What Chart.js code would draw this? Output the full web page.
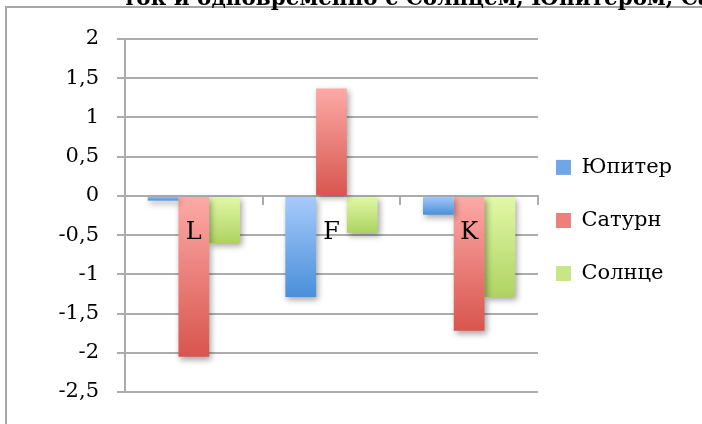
<!DOCTYPE html>
<html>
<head>
<meta charset="utf-8">
<script src="https://cdn.jsdelivr.net/npm/chart.js@4.4.1/dist/chart.umd.min.js"></script>
<style>
html,body{margin:0;padding:0;background:#fff;}
#wrap{width:702px;height:424px;position:relative;}
</style>
</head>
<body>
<div id="wrap"><canvas id="c" width="702" height="424"></canvas></div>
<script>
const categories = ['L', 'F', 'K'];
const seriesNames = ['Юпитер', 'Сатурн', 'Солнце'];
const jupiter = [-0.06, -1.29, -0.24];
const saturn = [-2.05, 1.37, -1.72];
const sun = [-0.6, -0.47, -1.29];
const yTicks = [2, 1.5, 1, 0.5, 0, -0.5, -1, -1.5, -2, -2.5];
const titleText = 'ток и одновременно с Солнцем, Юпитером, Сатурном';

const palette = [
  {top: '#a7cbfb', bot: '#4a8fd9', mid: '#6fa6e8'},
  {top: '#fdaaa7', bot: '#d8554e', mid: '#ee7f7a'},
  {top: '#e2f9a7', bot: '#aed362', mid: '#c8e784'}
];

function grad(i) {
  return function(ctx) {
    const chart = ctx.chart;
    const p = palette[i];
    if (!chart.chartArea || ctx.type !== 'data') return p.mid;
    const y = chart.scales.y;
    const v = ctx.raw;
    const t = y.getPixelForValue(Math.max(v, 0));
    const b = y.getPixelForValue(Math.min(v, 0));
    if (!isFinite(t) || !isFinite(b) || b - t < 0.5) return p.mid;
    const g = chart.ctx.createLinearGradient(0, t, 0, b);
    g.addColorStop(0, p.top);
    g.addColorStop(1, p.bot);
    return g;
  };
}

const decor = {
  id: 'decor',
  beforeDraw(chart) {
    const c = chart.ctx;
    c.save();
    c.strokeStyle = '#a6a6a6';
    c.lineWidth = 2;
    c.beginPath();
    c.moveTo(6, 424); c.lineTo(6, 7); c.lineTo(702, 7);
    c.stroke();
    c.fillStyle = '#000';
    c.font = 'bold 21.5px "DejaVu Serif"';
    c.textBaseline = 'alphabetic';
    c.textAlign = 'left';
    c.fillText(titleText, 123, 5);
    c.restore();
  },
  beforeDatasetsDraw(chart) {
    const c = chart.ctx;
    c.save();
    c.shadowColor = 'rgba(0,0,0,0.35)';
    c.shadowBlur = 6;
    c.shadowOffsetX = 2;
    c.shadowOffsetY = 3;
  },
  afterDatasetsDraw(chart) {
    chart.ctx.restore();
  }
};

const fmt = v => String(v).replace('.', ',');

new Chart(document.getElementById('c'), {
  type: 'bar',
  data: {
    labels: categories,
    datasets: [
      {label: seriesNames[0], data: jupiter, backgroundColor: grad(0)},
      {label: seriesNames[1], data: saturn, backgroundColor: grad(1)},
      {label: seriesNames[2], data: sun, backgroundColor: grad(2)}
    ]
  },
  options: {
    responsive: false,
    animation: false,
    devicePixelRatio: 1,
    layout: {padding: {top: 39, bottom: 32, left: 0, right: 20}},
    datasets: {bar: {categoryPercentage: 0.67, barPercentage: 1}},
    plugins: {
      tooltip: {enabled: false},
      title: {display: false},
      legend: {
        position: 'right',
        align: 'center',
        title: {display: true, text: ' ', font: {size: 10, lineHeight: 1}, padding: {top: 7, bottom: 7}},
        labels: {
          font: {family: '"DejaVu Serif"', size: 21, lineHeight: 1.67},
          color: '#000',
          boxWidth: 15,
          boxHeight: 15,
          padding: 18,
          generateLabels(chart) {
            return chart.data.datasets.map((d, i) => ({
              text: [d.label],
              fillStyle: palette[i].mid,
              strokeStyle: palette[i].mid,
              lineWidth: 0,
              hidden: false,
              datasetIndex: i,
              fontColor: '#000'
            }));
          }
        }
      }
    },
    scales: {
      y: {
        min: -2.5,
        max: 2,
        afterBuildTicks(scale) {
          scale.ticks = yTicks.slice().reverse().map(v => ({value: v}));
        },
        afterFit(scale) { scale.width = 125; },
        ticks: {
          stepSize: 0.5,
          font: {family: '"DejaVu Serif"', size: 21},
          color: '#000',
          padding: 18,
          callback: v => fmt(v)
        },
        grid: {color: '#acacac', lineWidth: 2, tickLength: 8},
        border: {display: true, color: '#acacac', width: 2}
      },
      x: {
        position: {y: 0},
        offset: true,
        ticks: {
          z: 1,
          font: {family: '"DejaVu Serif"', size: 24},
          color: '#000',
          padding: 14
        },
        grid: {offset: true, drawOnChartArea: false, drawTicks: true, tickLength: 8, color: '#acacac', lineWidth: 2},
        border: {display: true, color: '#acacac', width: 2}
      }
    }
  },
  plugins: [decor]
});
</script>
</body>
</html>
